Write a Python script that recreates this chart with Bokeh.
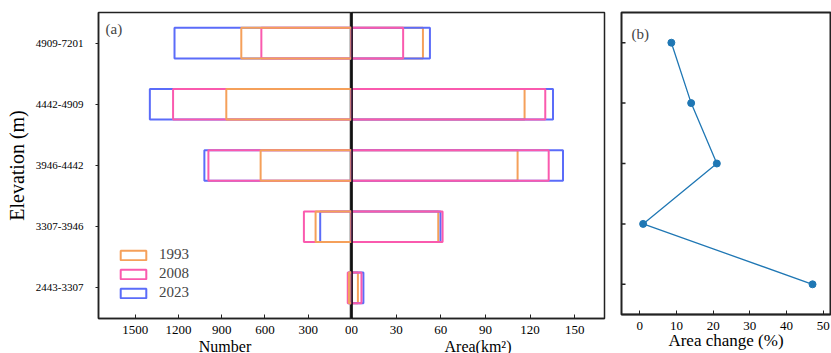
from bokeh.plotting import figure
from bokeh.models import (Range1d, FactorRange, FixedTicker, Span, Legend,
                          LegendItem, Label)
from bokeh.layouts import row
from bokeh.embed import file_html
from bokeh.resources import INLINE

# ---------------- data ----------------
elevations = ["2443-3307", "3307-3946", "3946-4442", "4442-4909", "4909-7201"]
years = ["1993", "2008", "2023"]

number_1993 = [18, 249, 630, 868, 764]
number_2008 = [26, 330, 992, 1237, 625]
number_2023 = [22, 217, 1020, 1398, 1227]

area_1993 = [4.3, 58.3, 111.6, 116.3, 48.0]
area_2008 = [6.7, 61.2, 132.5, 130.2, 34.7]
area_2023 = [8.0, 59.8, 142.1, 135.4, 52.7]

area_change = [47.1, 0.9, 21.0, 14.0, 8.6]

number_ticks = [0, 300, 600, 900, 1200, 1500]
area_ticks = [0, 30, 60, 90, 120, 150]
change_ticks = [0, 10, 20, 30, 40, 50]

# ---------------- style ----------------
FONT = "Liberation Serif"
C93, C08, C23 = "#F5A05A", "#FA5AAE", "#5B6CF9"
FRAME = "#222222"
CHG_LO, CHG_HI = -5, 52


def style(p):
    p.xgrid.visible = False
    p.ygrid.visible = False
    p.outline_line_color = FRAME
    p.outline_line_width = 1.5
    p.background_fill_color = "white"
    p.border_fill_color = "white"
    for ax in p.axis:
        ax.axis_line_color = FRAME
        ax.axis_line_width = 1.5
        ax.major_tick_line_color = FRAME
        ax.minor_tick_line_color = None
        ax.major_label_text_font = FONT
        ax.major_label_text_color = "black"
        ax.axis_label_text_font = FONT
        ax.axis_label_text_font_style = "normal"
        ax.axis_label_text_color = "black"


yr = FactorRange(factors=elevations, range_padding=0)

# ---------------- panel (a) left: Number ----------------
pL = figure(frame_width=253, frame_height=306, x_range=Range1d(1754, 0),
            y_range=yr, output_backend="svg", toolbar_location=None,
            min_border_left=98, min_border_right=0, min_border_top=12,
            min_border_bottom=35)
rb = pL.hbar(y=elevations, left=0, right=number_2023, height=0.5,
             fill_color=None, line_color=C23, line_width=2)
rp = pL.hbar(y=elevations, left=0, right=number_2008, height=0.5,
             fill_color=None, line_color=C08, line_width=2)
ro = pL.hbar(y=elevations, left=0, right=number_1993, height=0.5,
             fill_color=None, line_color=C93, line_width=2)
style(pL)
pL.xaxis.ticker = FixedTicker(ticks=number_ticks)
pL.xaxis.axis_label = "Number"
pL.xaxis.major_tick_in = 4
pL.xaxis.major_tick_out = 0
pL.xaxis.major_label_text_font_size = "13px"
pL.xaxis.major_label_standoff = 7
pL.xaxis.axis_label_text_font_size = "16px"
pL.xaxis.axis_label_standoff = 1
pL.yaxis.axis_label = "Elevation (m)"
pL.yaxis.major_tick_in = 0
pL.yaxis.major_tick_out = 3
pL.yaxis.major_label_text_font_size = "11px"
pL.yaxis.major_label_standoff = 12
pL.yaxis.axis_label_text_font_size = "20px"
pL.yaxis.axis_label_standoff = 5

legend = Legend(items=[LegendItem(label=years[0], renderers=[ro]),
                       LegendItem(label=years[1], renderers=[rp]),
                       LegendItem(label=years[2], renderers=[rb])],
                location=(19, 17), glyph_width=32, glyph_height=12,
                label_height=12, spacing=2, label_standoff=10, padding=0,
                margin=0, border_line_color=None, background_fill_alpha=0,
                label_text_font=FONT, label_text_font_size="15px")
pL.add_layout(legend)
pL.add_layout(Label(x=7, y=298, x_units="screen", y_units="screen",
                    text="(a)", text_baseline="top", text_font=FONT,
                    text_font_size="15px"))

# ---------------- panel (a) right: Area ----------------
pR = figure(frame_width=253, frame_height=306, x_range=Range1d(0, 170),
            y_range=yr, output_backend="svg", toolbar_location=None,
            min_border_left=0, min_border_right=16, min_border_top=12,
            min_border_bottom=35)
pR.hbar(y=elevations, left=0, right=area_1993, height=0.5,
        fill_color=None, line_color=C93, line_width=2)
pR.hbar(y=elevations, left=0, right=area_2023, height=0.5,
        fill_color=None, line_color=C23, line_width=2)
pR.hbar(y=elevations, left=0, right=area_2008, height=0.5,
        fill_color=None, line_color=C08, line_width=2)
pR.add_layout(Span(location=0, dimension="height", line_color="black",
                   line_width=2.5))
style(pR)
pR.yaxis.visible = False
pR.xaxis.ticker = FixedTicker(ticks=area_ticks)
pR.xaxis.axis_label = "Area(km²)"
pR.xaxis.major_tick_in = 4
pR.xaxis.major_tick_out = 0
pR.xaxis.major_label_text_font_size = "13px"
pR.xaxis.major_label_standoff = 7
pR.xaxis.axis_label_text_font_size = "16px"
pR.xaxis.axis_label_standoff = 1

# ---------------- panel (b): Area change ----------------
pB = figure(frame_width=209, frame_height=302,
            x_range=Range1d(CHG_LO, CHG_HI),
            y_range=FactorRange(factors=elevations, range_padding=0),
            output_backend="svg", toolbar_location=None,
            min_border_left=1, min_border_right=1, min_border_top=12,
            min_border_bottom=39)
# inward y ticks at each elevation band (clipped half of a dash marker)
pB.scatter(x=[CHG_LO] * len(elevations), y=elevations, marker="dash",
           size=8, line_color=FRAME, line_width=1.5)
pB.line(x=area_change, y=elevations, line_color="#1f77b4", line_width=1.3)
pB.scatter(x=area_change, y=elevations, size=7, fill_color="#1f77b4",
           line_color="#1f77b4")
style(pB)
pB.yaxis.visible = False
pB.outline_line_width = 2
pB.xaxis.ticker = FixedTicker(ticks=change_ticks)
pB.xaxis.axis_label = "Area change (%)"
pB.xaxis.major_tick_in = 4
pB.xaxis.major_tick_out = 0
pB.xaxis.major_label_text_font_size = "13px"
pB.xaxis.major_label_standoff = 7
pB.xaxis.axis_label_text_font_size = "17px"
pB.xaxis.axis_label_standoff = -2
pB.add_layout(Label(x=10, y=289, x_units="screen", y_units="screen",
                    text="(b)", text_baseline="top", text_font=FONT,
                    text_font_size="15px"))

layout = row(pL, pR, pB)
open("out.html", "w").write(file_html(layout, INLINE))
